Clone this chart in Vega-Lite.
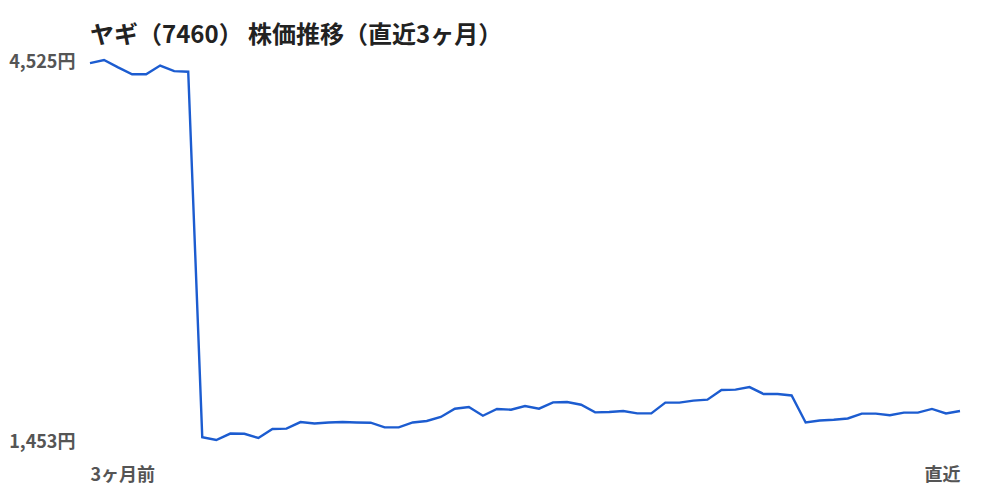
{
  "$schema": "https://vega.github.io/schema/vega-lite/v6.json",
  "description": "ヤギ（7460）の直近3ヶ月の株価推移",
  "autosize": "none",
  "width": 870,
  "height": 380,
  "padding": {"left": 90, "top": 60, "right": 40, "bottom": 60},
  "background": "white",
  "config": {
    "view": {"stroke": null},
    "font": "Noto Sans CJK JP"
  },
  "title": {
    "text": "ヤギ（7460） 株価推移（直近3ヶ月）",
    "anchor": "start",
    "frame": "group",
    "fontSize": 24,
    "fontWeight": "bold",
    "color": "#222222",
    "font": "Noto Sans CJK JP",
    "offset": 5
  },
  "data": {
    "values": [
      {"day": 0, "price": 4500},
      {"day": 1, "price": 4525},
      {"day": 2, "price": 4465},
      {"day": 3, "price": 4410},
      {"day": 4, "price": 4410},
      {"day": 5, "price": 4480},
      {"day": 6, "price": 4435},
      {"day": 7, "price": 4430},
      {"day": 8, "price": 1475},
      {"day": 9, "price": 1453},
      {"day": 10, "price": 1505},
      {"day": 11, "price": 1503},
      {"day": 12, "price": 1469},
      {"day": 13, "price": 1542},
      {"day": 14, "price": 1545},
      {"day": 15, "price": 1598},
      {"day": 16, "price": 1587},
      {"day": 17, "price": 1595},
      {"day": 18, "price": 1598},
      {"day": 19, "price": 1595},
      {"day": 20, "price": 1593},
      {"day": 21, "price": 1555},
      {"day": 22, "price": 1555},
      {"day": 23, "price": 1595},
      {"day": 24, "price": 1607},
      {"day": 25, "price": 1639},
      {"day": 26, "price": 1706},
      {"day": 27, "price": 1720},
      {"day": 28, "price": 1649},
      {"day": 29, "price": 1704},
      {"day": 30, "price": 1698},
      {"day": 31, "price": 1728},
      {"day": 32, "price": 1706},
      {"day": 33, "price": 1757},
      {"day": 34, "price": 1760},
      {"day": 35, "price": 1738},
      {"day": 36, "price": 1676},
      {"day": 37, "price": 1679},
      {"day": 38, "price": 1687},
      {"day": 39, "price": 1668},
      {"day": 40, "price": 1668},
      {"day": 41, "price": 1755},
      {"day": 42, "price": 1755},
      {"day": 43, "price": 1771},
      {"day": 44, "price": 1779},
      {"day": 45, "price": 1857},
      {"day": 46, "price": 1860},
      {"day": 47, "price": 1881},
      {"day": 48, "price": 1825},
      {"day": 49, "price": 1825},
      {"day": 50, "price": 1813},
      {"day": 51, "price": 1595},
      {"day": 52, "price": 1611},
      {"day": 53, "price": 1617},
      {"day": 54, "price": 1627},
      {"day": 55, "price": 1666},
      {"day": 56, "price": 1666},
      {"day": 57, "price": 1653},
      {"day": 58, "price": 1674},
      {"day": 59, "price": 1674},
      {"day": 60, "price": 1704},
      {"day": 61, "price": 1668},
      {"day": 62, "price": 1687}
    ]
  },
  "mark": {"type": "line", "color": "#1c5cd0", "strokeWidth": 2.4, "interpolate": "linear"},
  "encoding": {
    "x": {
      "field": "day",
      "type": "quantitative",
      "scale": {"domain": [0, 62], "nice": false, "zero": false},
      "axis": {
        "title": null,
        "values": [0, 62],
        "labelExpr": "datum.value == 0 ? '3ヶ月前' : '直近'",
        "labelFlush": true,
        "grid": false,
        "domain": false,
        "ticks": false,
        "labelFontSize": 18,
        "labelFontWeight": "bold",
        "labelColor": "#555555",
        "labelFont": "Noto Sans CJK JP",
        "labelPadding": 26
      }
    },
    "y": {
      "field": "price",
      "type": "quantitative",
      "scale": {"domain": [1453, 4525], "nice": false, "zero": false},
      "axis": {
        "title": null,
        "values": [1453, 4525],
        "labelExpr": "format(datum.value, ',') + '円'",
        "grid": false,
        "domain": false,
        "ticks": false,
        "labelFontSize": 18,
        "labelFontWeight": "bold",
        "labelColor": "#555555",
        "labelFont": "Noto Sans CJK JP",
        "labelPadding": 15,
        "labelOffset": 2
      }
    }
  }
}
